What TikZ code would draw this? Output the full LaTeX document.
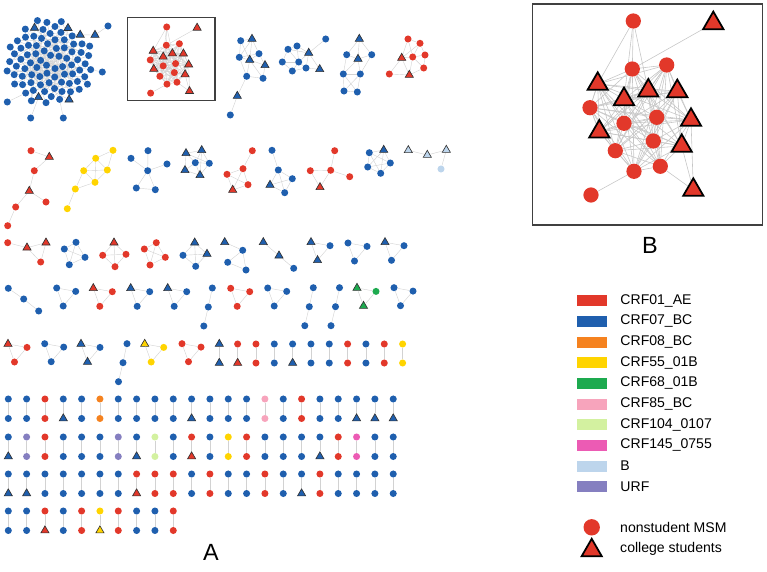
\documentclass[tikz,border=0pt]{standalone}
\usepackage{fontspec}
\setmainfont{Liberation Sans}
\usetikzlibrary{positioning,shapes.geometric}

\definecolor{c01}{HTML}{E2382A}
\definecolor{c07}{HTML}{1F5FAE}
\definecolor{c08}{HTML}{F5821F}
\definecolor{c55}{HTML}{FFD400}
\definecolor{c68}{HTML}{1DAA4F}
\definecolor{c85}{HTML}{F7A4BC}
\definecolor{c104}{HTML}{D3F1A0}
\definecolor{c145}{HTML}{EC5BB4}
\definecolor{cB}{HTML}{BDD5EC}
\definecolor{cU}{HTML}{857FC0}

\pgfdeclarelayer{bg}
\pgfsetlayers{bg,main}

\tikzset{
  msm/.style={circle, inner sep=0pt, minimum size=6pt},
  stu/.style={regular polygon, regular polygon sides=3, inner sep=0pt, minimum size=8pt,
              draw=black!80, line width=0.55pt},
  o01/.style={msm, fill=c01},   t01/.style={stu, fill=c01},
  o07/.style={msm, fill=c07},   t07/.style={stu, fill=c07},
  o08/.style={msm, fill=c08},
  o55/.style={msm, fill=c55},   t55/.style={stu, fill=c55},
  o68/.style={msm, fill=c68},   t68/.style={stu, fill=c68},
  o85/.style={msm, fill=c85},
  o104/.style={msm, fill=c104},
  o145/.style={msm, fill=c145},
  oB/.style={msm, fill=cB},     tB/.style={stu, fill=cB},
  oU/.style={msm, fill=cU},
  link/.style={draw=gray!35, line width=0.35pt},
  frame/.style={draw=black!75, line width=1pt},
  swatch/.style={rectangle, minimum width=0.9cm, minimum height=0.33cm, inner sep=0pt},
  lbl/.style={anchor=west, inner sep=0pt, font=\fontsize{12}{14}\selectfont},
  panel/.style={font=\fontsize{20}{24}\selectfont},
}

% a cluster: name prefix, nodes n/style/x/y, links a/b
\newcommand\net[3]{%
  \foreach \n/\t/\x/\y in {#2} \node[\t] (#1\n) at (\x,\y) {};
  \begin{pgfonlayer}{bg}
    \foreach \a/\b in {#3} \draw[link] (#1\a) -- (#1\b);
  \end{pgfonlayer}}

% three linked nodes in a triangle
\newcommand\triad[5]{%
  \node[#3] (#1a) at (#2) {};
  \node[#4] (#1b) at ([shift={(19,3.4)}]#1a) {};
  \node[#5] (#1c) at ([shift={(6.5,18)}]#1a) {};
  \draw[link] (#1a) -- (#1b) -- (#1c) -- (#1a);}

% three nodes in a line
\newcommand\chain[5]{%
  \node[#3] (#1a) at (#2) {};
  \node[#4] (#1b) at ([shift={(-4,19)}]#1a) {};
  \node[#5] (#1c) at ([shift={(-8.5,38)}]#1a) {};
  \draw[link] (#1a) -- (#1b) -- (#1c);}

% the boxed CRF01_AE cluster (drawn twice)
\newcommand\hubnet[1]{%
  \foreach \n/\t/\x/\y in {1/o01/633.3/21, 2/t01/713.3/23.3, 3/o01/632.3/69, 4/o01/666.7/65,
      5/t01/597.7/84, 6/t01/624/99.3, 7/t01/648.3/90.7, 8/t01/677.3/91.3, 9/o01/590/107.7,
      10/o01/656.7/117.3, 11/t01/691/120, 12/o01/624/123.3, 13/t01/599.3/131.7,
      14/o01/653.3/141, 15/t01/681.7/146, 16/o01/615.3/150.7, 17/o01/634/171.3,
      18/o01/660.3/166.3, 19/t01/693.3/190, 20/o01/591/195}
    \node[\t] (#1\n) at (\x,\y) {};
  \begin{pgfonlayer}{bg}
    \foreach \a/\b in {1/3, 1/5, 1/6, 1/7, 2/3, 5/9, 9/13, 17/20, 11/19, 15/19, 18/19}
      \draw[link] (#1\a) -- (#1\b);
    \foreach \i in {3,...,17} {
      \pgfmathtruncatemacro\hubnext{\i+1}
      \foreach \j in {\hubnext,...,18} {
        \pgfmathtruncatemacro\hubcut{mod(3*\i+7*\j,5)}
        \ifnum\hubcut>0 \draw[link] (#1\i) -- (#1\j); \fi
      }
    }
  \end{pgfonlayer}}

\begin{document}
\begin{tikzpicture}[x=0.03cm, y=-0.03cm]
\useasboundingbox (0,0) rectangle (767,572);

% big CRF07_BC cluster
\begin{scope}[shift={(50,62)}]
  \foreach \i in {1,...,85} {
    \pgfmathtruncatemacro\isstu{(\i==61)||(\i==62)||(\i==65)||(\i==73)||(\i==79)}
    \ifnum\isstu=1 \def\kst{t07}\else\def\kst{o07}\fi
    \node[\kst] (k\i) at ({137.508*\i}:{4.75*sqrt(\i)}) {};
  }
\end{scope}
\foreach \n/\t/\x/\y in {1/t07/95/35, 2/o07/108/26, 3/o07/102.3/72, 4/o07/7.3/102,
    5/o07/30.7/118, 6/o07/63.3/118}
  \node[\t] (q\n) at (\x,\y) {};
\begin{pgfonlayer}{bg}
  \foreach \i in {2,...,85} {
    \pgfmathtruncatemacro\kin{\i/2}
    \pgfmathtruncatemacro\kmid{\i/3+1}
    \draw[link] (k\i) -- (k\kin) (k\i) -- (k\kmid);
  }
  \foreach \a/\b in {q1/k73, q2/q1, q3/k76, q4/k69, q5/k61, q6/k66}
    \draw[link] (\a) -- (\b);
\end{pgfonlayer}

% boxed cluster, small copy
\begin{scope}[shift={(-73.95,19.02)}, scale=0.38]
  \hubnet{h}
\end{scope}
\draw[frame] (127.7,17.3) rectangle (215,100.7);

% top row
\net{fA}{1/o07/240.7/40.7, 2/t07/252/39, 3/o07/259/53.7, 4/o07/239.3/57.3, 5/t07/249.7/60,
  6/t07/265/65.3, 7/o07/246.7/76.3, 8/o07/263/78.3, 9/t07/237.3/96, 10/o07/230.3/115}
  {1/2,1/4,1/5,2/3,2/4,2/5,3/4,3/5,3/6,4/5,4/7,5/6,5/7,5/8,6/8,7/8,7/9,9/10}
\net{fB}{1/o07/288/49.3, 2/o07/297/46, 3/o07/282.3/62, 4/o07/298.7/62, 5/t07/308.7/53,
  6/o07/292.3/71, 7/o07/306/68, 8/t07/319.7/69.3, 9/o07/325.7/39}
  {1/2,1/3,1/4,1/5,2/4,2/5,3/4,3/6,4/5,4/6,4/7,5/7,5/8,6/7,7/8,5/9}
\net{fC}{1/t07/359.3/39, 2/o07/346.7/54.7, 3/t07/358/59, 4/o07/371.7/54.7, 5/o07/343.3/74,
  6/o07/360.3/74, 7/o07/344/91, 8/o07/357.3/92}
  {1/2,1/3,1/4,2/3,3/4,2/5,3/5,3/6,4/6,5/6,5/7,5/8,6/7,6/8,7/8}
\net{fD}{1/o01/408/39, 2/o01/420/43.3, 3/t01/401.7/58, 4/o01/412.7/57, 5/o01/425/55,
  6/o01/423.7/68, 7/o01/389.3/74, 8/t01/409.3/75}
  {1/2,1/3,1/4,2/3,2/4,2/5,3/4,3/7,3/8,4/5,4/6,4/8,5/6,6/8,7/8}

% second row
\net{eA}{1/o01/31/150.7, 2/t01/49.3/157, 3/o01/34.3/170.7, 4/t01/29.3/191, 5/o01/46/202,
  6/o01/15.7/207, 7/o01/7.7/225.7}{1/2,2/3,3/4,4/5,4/6,6/7}
\net{eB}{1/o55/113/150.3, 2/o55/95.7/158.3, 3/o55/83.7/170.7, 4/o55/107.3/170, 5/o55/95/182.3,
  6/o55/75.3/189, 7/o55/67.3/208.7}{1/2,1/4,2/3,2/4,2/5,3/4,3/5,4/5,3/6,5/6,6/7}
\net{eC}{1/o07/148/150.7, 2/o07/131/158.3, 3/o07/147.7/170.7, 4/o07/167/164, 5/o07/136.3/188,
  6/o07/155.3/189.7}{1/3,2/3,3/4,3/5,3/6,5/6}
\net{eD}{1/t07/186/153.3, 2/t07/201.7/150.3, 3/o07/195.3/162.7, 4/o07/209.3/163.3,
  5/t07/185/170.3, 6/t07/200/175.3}{1/2,1/3,1/5,2/3,2/4,3/4,3/5,3/6,4/6,5/6,1/4,2/6}
\net{eE}{1/o01/252.3/150.7, 2/o01/243/168.7, 3/o01/227/174.3, 4/o01/248/184.7,
  5/t01/232.7/190}{1/2,2/3,2/4,2/5,3/5,4/5,3/4}
\net{eF}{1/o07/272/150.3, 2/o07/278.3/170, 3/o07/292.3/178.7, 4/t07/270/185,
  5/o07/284.7/192.7}{1/2,2/3,2/4,2/5,3/5,4/5,3/4}
\net{eG}{1/o01/334.7/150.7, 2/o01/310.3/170.7, 3/o01/330.7/170.3, 4/o01/349.7/176.7,
  5/t01/320/187.3}{1/3,2/3,3/4,2/5,3/5}
\net{eH}{1/o07/369.3/152.7, 2/t07/383.7/150, 3/o07/390.3/163, 4/o07/367.7/167,
  5/o07/380.7/173.3}{1/2,1/3,1/4,1/5,2/3,2/4,2/5,3/4,3/5,4/5}
\net{eI}{1/tB/408.3/150.3, 2/tB/427.3/155, 3/tB/446.3/150, 4/oB/441/169}{1/2,2/3,3/4}

% third row
\net{dA}{1/o01/7.7/242.7, 2/t01/27/247.7, 3/t01/46/242.7, 4/o01/40.7/262}{1/2,2/3,2/4,3/4}
\net{dB}{1/o07/64.3/249, 2/o07/76/242.3, 3/o07/85/257.3, 4/o07/69.3/264.7}{1/2,1/4,2/3,3/4,1/3,2/4}
\net{dC}{1/t01/114/242.7, 2/o01/102.7/255.3, 3/o01/126/254.3, 4/o01/115/266.7}{1/2,1/3,2/4,3/4,2/3,1/4}
\net{dD}{1/o01/156.3/242.7, 2/o01/144.3/249, 3/o01/165.3/257.3, 4/o01/150/265}{1/2,1/3,2/4,3/4,1/4,2/3}
\net{dE}{1/t07/194.7/242.7, 2/o07/183/255.3, 3/t07/207/254, 4/o07/195.7/266.3}{1/2,1/3,2/4,3/4,1/4,2/3}
\net{dF}{1/t07/224.7/242.3, 2/o07/242.7/250.3, 3/o07/227.7/262.3, 4/o07/246/270}{1/2,2/3,2/4,3/4}
\net{dG}{1/t07/263.3/242.3, 2/t07/279/255.7, 3/o07/293.7/268.3}{1/2,2/3}
\triad{dH}{311,242.3}{t07}{o07}{t07}
\triad{dI}{348,243}{o07}{o07}{o07}
\triad{dJ}{385,242.3}{t07}{o07}{o07}

% fourth row
\net{aA}{1/o07/8.3/288.3, 2/o07/23.7/299, 3/o07/38.7/311}{1/2,2/3}
\triad{aB}{56.7,288}{o07}{o07}{o07}
\triad{aC}{93.3,288.3}{t01}{o01}{o01}
\triad{aD}{130.7,288.3}{t07}{o07}{o07}
\triad{aE}{167.7,288.3}{t07}{o07}{o07}
\chain{aF}{212.3,288}{o07}{o07}{o07}
\triad{aG}{230.7,288.3}{o01}{o01}{o01}
\triad{aH}{267.7,288}{o07}{o07}{o07}
\chain{aI}{313.3,287.7}{o07}{o07}{o07}
\chain{aJ}{339.5,287.7}{o07}{o07}{o07}
\triad{aK}{357,288}{t68}{o68}{t68}
\triad{aL}{394,287.7}{o07}{o07}{o07}

% fifth row
\triad{cA}{8,344}{t01}{o01}{o01}
\triad{cB}{44.7,343.7}{o07}{o07}{o07}
\triad{cC}{81,344}{t07}{o07}{t07}
\chain{cD}{127,343.7}{o07}{o07}{o07}
\triad{cE}{144.7,344}{t55}{o55}{o55}
\triad{cF}{182,343.7}{o01}{o01}{o01}
\foreach \t/\u [count=\i from 0] in {t07/t07, o01/t01, o01/o01, o07/o07, o07/t07, o07/o07,
    o07/o07, o01/o01, o07/o07, o01/o01, o55/o55} {
  \node[\t] (cp-\i-a) at ({219.3+18.33*\i},344) {};
  \node[\u] (cp-\i-b) at ({219.3+18.33*\i},363) {};
  \draw[link] (cp-\i-a) -- (cp-\i-b);
}

% linked pairs
\foreach \r/\yy/\lst in {
  1/399/{o07/o07, o07/o07, o01/o01, o07/t07, o07/o07, o08/o08, o07/o07, o07/o07, o07/o07,
    o07/o07, o07/t07, o07/o07, o07/o07, o07/o07, o85/o85, o07/o07, o01/o01, o07/o07,
    o07/o07, o07/t07, o07/t07, o07/t07},
  2/437/{o07/t07, oU/oU, o01/o01, o07/o07, o07/o07, o07/o07, oU/oU, o07/t07, o104/o104,
    o07/o07, o01/t01, o07/o07, o55/o55, o01/o01, o07/o07, o07/o07, o07/o07, o07/t07,
    o01/o01, o145/o145, o07/o07, o07/o07},
  3/474/{o07/t07, o07/t07, o07/o07, o07/o07, o07/o07, o07/o07, o07/o07, o01/t01, o01/o01,
    o01/o01, o07/o07, o01/o01, o07/o07, o07/o07, o01/o01, o07/o07, o07/t07, o01/o01,
    o07/o07, o07/o07, o07/o07, o07/o07},
  4/511/{o07/o07, o07/o07, o01/t01, o07/o07, o01/o01, o55/t55, o01/o01, o07/o07, o07/o07,
    o01/o01}} {
  \foreach \t/\u [count=\i from 0] in \lst {
    \node[\t] (g\r-\i-a) at ({8.3+18.33*\i},\yy) {};
    \node[\u] (g\r-\i-b) at ({8.3+18.33*\i},{\yy+19.5}) {};
    \draw[link] (g\r-\i-a) -- (g\r-\i-b);
  }
}

\node[panel] (labA) at (211,552) {A};

% panel B
\begin{scope}[msm/.append style={minimum size=13pt},
              stu/.append style={minimum size=20pt, line width=1.5pt, draw=black},
              link/.append style={draw=gray!45, line width=0.5pt}]
  \hubnet{b}
\end{scope}
\draw[frame] (532.7,4) rectangle (762.7,225);
\node[panel] (labB) at (650,245) {B};

% legend
\foreach \c/\txt [count=\k] in {c01/CRF01\_AE, c07/CRF07\_BC, c08/CRF08\_BC, c55/CRF55\_01B,
    c68/CRF68\_01B, c85/CRF85\_BC, c104/CRF104\_0107, c145/CRF145\_0755, cB/B, cU/URF} {
  \node[swatch, fill=\c] (sw\k) at (592.3,{300.7+20.67*(\k-1)}) {};
  \node[lbl, right=0.38cm of sw\k] (tx\k) {\txt};
}
\node[msm, fill=c01, minimum size=14pt] (lgm) at (591.7,527.3) {};
\node[stu, fill=c01, minimum size=20pt, line width=1.5pt, draw=black] (lgt) at (591.7,550.5) {};
\node[lbl] (lgmtxt) at (620,527.3) {nonstudent MSM};
\node[lbl] (lgttxt) at (620,549.3) {college students};
\end{tikzpicture}
\end{document}
